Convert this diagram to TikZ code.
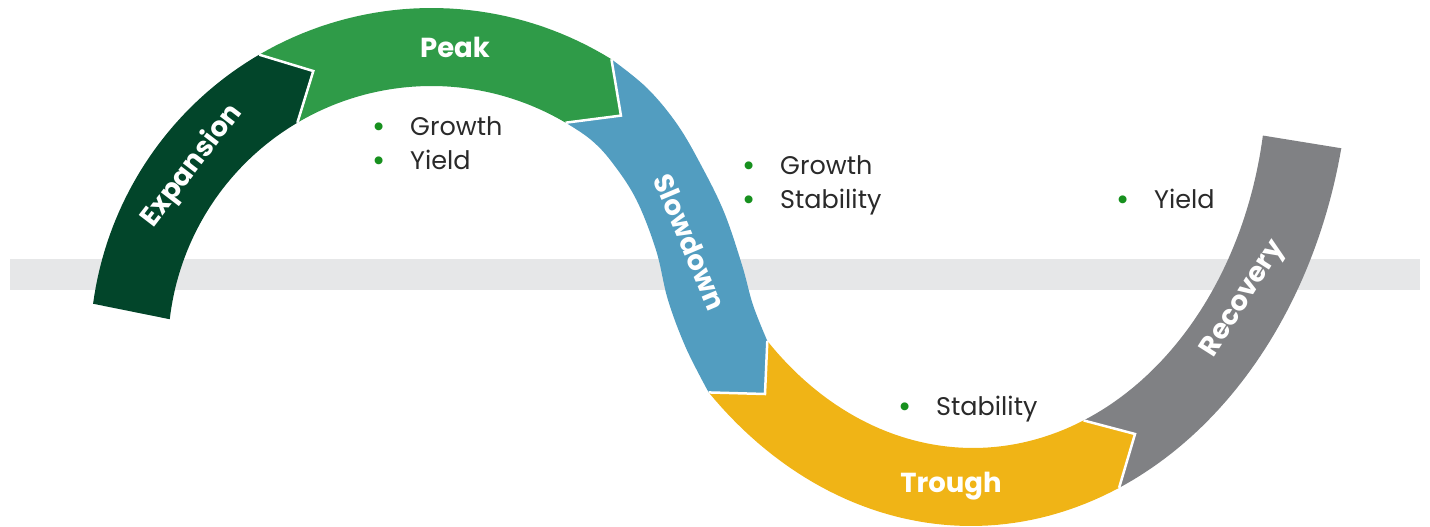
\documentclass[tikz,border=0pt]{standalone}
\usepackage{fontspec}
\setmainfont{Poppins}
\definecolor{expc}{HTML}{02452A}
\definecolor{peakc}{HTML}{2F9B48}
\definecolor{slowc}{HTML}{529DC0}
\definecolor{troughc}{HTML}{F0B416}
\definecolor{recc}{HTML}{808184}
\definecolor{barc}{HTML}{E6E7E8}
\definecolor{bulc}{HTML}{17901E}
\definecolor{txtc}{HTML}{2A2A2A}
\newcommand\bul{\makebox[38pt][l]{\raisebox{-2.5pt}{\textcolor{bulc}{\fontsize{32}{32}\selectfont\char"2022}}}}
\begin{document}
\begin{tikzpicture}[x=1pt,y=-1pt,
  phase/.style={text=white,font=\bfseries\fontsize{27.5}{27.5}\selectfont,inner sep=0},
  item/.style={anchor=base west,text=txtc,font=\fontsize{25.5}{30}\selectfont,inner sep=0},
  joint/.style={draw=white,line width=2.5pt,line join=miter}]
\useasboundingbox (0,0) rectangle (1430,527);
% upper half-ring and lower elliptic ring
\def\ux{431.5}\def\uy{349.5}\def\uR{341.5}\def\ur{263.5}\def\um{302.5}
\def\ox{971}\def\oy{46}\def\oa{379}\def\ob{480}
\def\ix{973}\def\iy{73}\def\ia{294}\def\ib{375}
% horizontal band
\fill[barc] (10,259) rectangle (1420,290);
% joint points
\coordinate (epo) at ({\ux+\uR*cos(239.7)},{\uy+\uR*sin(239.7)});
\coordinate (ept) at ({\ux+\um*cos(247)},{\uy+\um*sin(247)});
\coordinate (epi) at ({\ux+\ur*cos(239.4)},{\uy+\ur*sin(239.4)});
\coordinate (pso) at ({\ux+\uR*cos(301.8)},{\uy+\uR*sin(301.8)});
\coordinate (pst) at ({\ux+301*cos(309)},{\uy+301*sin(309)});
\coordinate (psi) at ({\ux+\ur*cos(300.6)},{\uy+\ur*sin(300.6)});
\coordinate (sti) at ({\ix+\ia*cos(134.4)},{\iy+\ib*sin(134.4)});
\coordinate (stt) at (765,394);
\coordinate (sto) at ({\ox+\oa*cos(133.8)},{\oy+\ob*sin(133.8)});
\coordinate (tri) at ({\ix+\ia*cos(67.9)},{\iy+\ib*sin(67.9)});
\coordinate (trt) at (1135,434);
\coordinate (tro) at ({\ox+\oa*cos(67.0)},{\oy+\ob*sin(67.0)});
% Expansion
\fill[expc] plot[domain=187.7:239.7,samples=40] ({\ux+\uR*cos(\x)},{\uy+\uR*sin(\x)})
  -- (ept) -- plot[domain=239.4:186.6,samples=40] ({\ux+\ur*cos(\x)},{\uy+\ur*sin(\x)}) -- cycle;
% Peak
\fill[peakc] plot[domain=239.7:301.8,samples=40] ({\ux+\uR*cos(\x)},{\uy+\uR*sin(\x)})
  -- (pst) -- plot[domain=300.6:239.4,samples=40] ({\ux+\ur*cos(\x)},{\uy+\ur*sin(\x)})
  -- (ept) -- cycle;
% Slowdown
\fill[slowc] (pso) -- plot[smooth,tension=0.6] coordinates {(pso) (647,88) (677,124) (701,165) (724,212) (742,265) (753,305) (767.3,340.9)}
  -- (stt) -- (sto) -- plot[smooth,tension=0.6] coordinates {(sto) (686,348) (668,300) (656,250) (636,199) (611,161) (590,139) (psi)}
  -- (pst) -- cycle;
% Trough
\fill[troughc] plot[domain=133.8:67.0,samples=50] ({\ox+\oa*cos(\x)},{\oy+\ob*sin(\x)})
  -- (trt) -- plot[domain=67.9:134.4,samples=50] ({\ix+\ia*cos(\x)},{\iy+\ib*sin(\x)})
  -- (stt) -- cycle;
% Recovery
\fill[recc] plot[domain=67.0:12.3,samples=50] ({\ox+\oa*cos(\x)},{\oy+\ob*sin(\x)})
  -- plot[domain=9.6:67.9,samples=50] ({\ix+\ia*cos(\x)},{\iy+\ib*sin(\x)})
  -- (trt) -- cycle;
% white joints between phases
\draw[joint] (epo) -- (ept) -- (epi);
\draw[joint] (pso) -- (pst) -- (psi);
\draw[joint] (sti) -- (stt) -- (sto);
\draw[joint] (tri) -- (trt) -- (tro);
% phase names
\node[phase] (peak) at (455,47) {Peak};
\node[phase,rotate=52.5] (expansion) at (192,166) {Expansion};
\node[phase,rotate=-67] (slowdown) at (690,242) {Slowdown};
\node[phase] (trough) at (951,486) {Trough};
\node[phase,rotate=57.5] (recovery) at (1244,299) {Recovery};
% asset lists
\node[item] (pk1) at (372,135) {\bul Growth};
\node[item] (pk2) at (372,169) {\bul Yield};
\node[item] (sl1) at (742,174) {\bul Growth};
\node[item] (sl2) at (742,208) {\bul Stability};
\node[item] (rc1) at (1116,208) {\bul Yield};
\node[item] (tr1) at (898,415) {\bul Stability};
\end{tikzpicture}
\end{document}
